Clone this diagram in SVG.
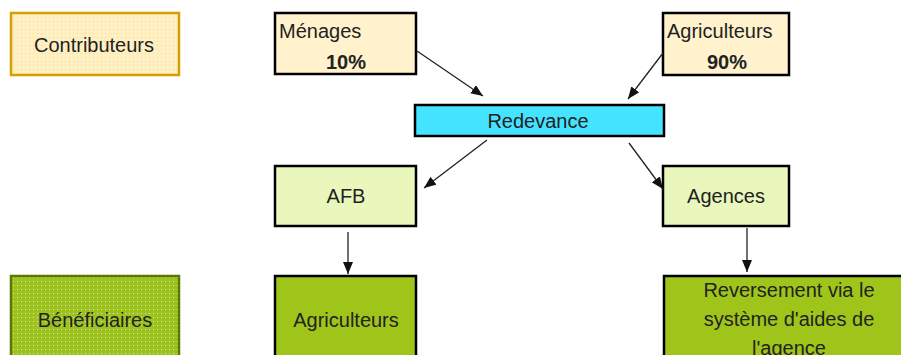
<svg xmlns="http://www.w3.org/2000/svg" width="901" height="355" viewBox="0 0 901 355">
<defs>
<pattern id="dotY" width="4" height="4" patternUnits="userSpaceOnUse">
<rect width="4" height="4" fill="#FFF0C4"/>
<rect x="1" y="1" width="1" height="1" fill="#FFD98A"/>
</pattern>
<pattern id="dotG" width="4" height="4" patternUnits="userSpaceOnUse">
<rect width="4" height="4" fill="#9CC31F"/>
<rect x="1" y="1" width="1" height="1" fill="#D8EC9A"/>
</pattern>
<marker id="ah" viewBox="0 0 12 10" refX="12" refY="5" markerWidth="12" markerHeight="10" markerUnits="userSpaceOnUse" orient="auto">
<path d="M0,0 L12,5 L0,10 Z" fill="#111"/>
</marker>
</defs>
<style>
text{font-family:"Liberation Sans",Arial,sans-serif;font-size:20px;fill:#222}
.b{font-weight:bold}
.box{stroke:#000;stroke-width:2.5}
.cy{fill:#FFF2CC}
.cl{fill:#E9F7BC}
.cg{fill:#9FC51A}
.c{text-anchor:middle}
.con line{stroke:#222;stroke-width:1.3;marker-end:url(#ah)}
</style>
<rect width="901" height="355" fill="#fff"/>
<g id="contributeurs">
<rect x="11" y="13" width="168" height="62" fill="url(#dotY)" stroke="#D4A000" stroke-width="2.5"/>
<text x="94" y="52" class="c">Contributeurs</text>
</g>
<g id="menages">
<rect x="275" y="13" width="141" height="61" class="box cy"/>
<text x="279" y="38">Ménages</text>
<text x="346" y="69" class="c b">10%</text>
</g>
<g id="agriculteurs-top">
<rect x="663" y="13" width="126" height="62" class="box cy"/>
<text x="667" y="38">Agriculteurs</text>
<text x="727" y="69" class="c b">90%</text>
</g>
<g id="redevance">
<rect x="415" y="105" width="249" height="31" class="box" fill="#44E3FF"/>
<text x="538" y="128" class="c">Redevance</text>
</g>
<g id="afb">
<rect x="275" y="166" width="141" height="60" class="box cl"/>
<text x="346" y="203" class="c">AFB</text>
</g>
<g id="agences">
<rect x="663" y="166" width="126" height="60" class="box cl"/>
<text x="726" y="203" class="c">Agences</text>
</g>
<g id="beneficiaires">
<rect x="11" y="276" width="168" height="90" fill="url(#dotG)" stroke="#5C7A00" stroke-width="2.5"/>
<text x="95" y="327" class="c">Bénéficiaires</text>
</g>
<g id="agriculteurs-bottom">
<rect x="275" y="276" width="141" height="90" class="box cg"/>
<text x="346" y="327" class="c">Agriculteurs</text>
</g>
<g id="reversement">
<rect x="664" y="276" width="250" height="90" class="box cg"/>
<text x="789" y="297" class="c">Reversement via le</text>
<text x="789" y="326" class="c">système d'aides de</text>
<text x="789" y="355" class="c">l'agence</text>
</g>
<g id="connectors" class="con">
<line x1="417" y1="51" x2="483" y2="96"/>
<line x1="663" y1="53" x2="628" y2="99"/>
<line x1="487" y1="140" x2="424" y2="188"/>
<line x1="629" y1="143" x2="663" y2="189"/>
<line x1="348" y1="232" x2="348" y2="274"/>
<line x1="747" y1="228" x2="747" y2="272"/>
</g>
</svg>
